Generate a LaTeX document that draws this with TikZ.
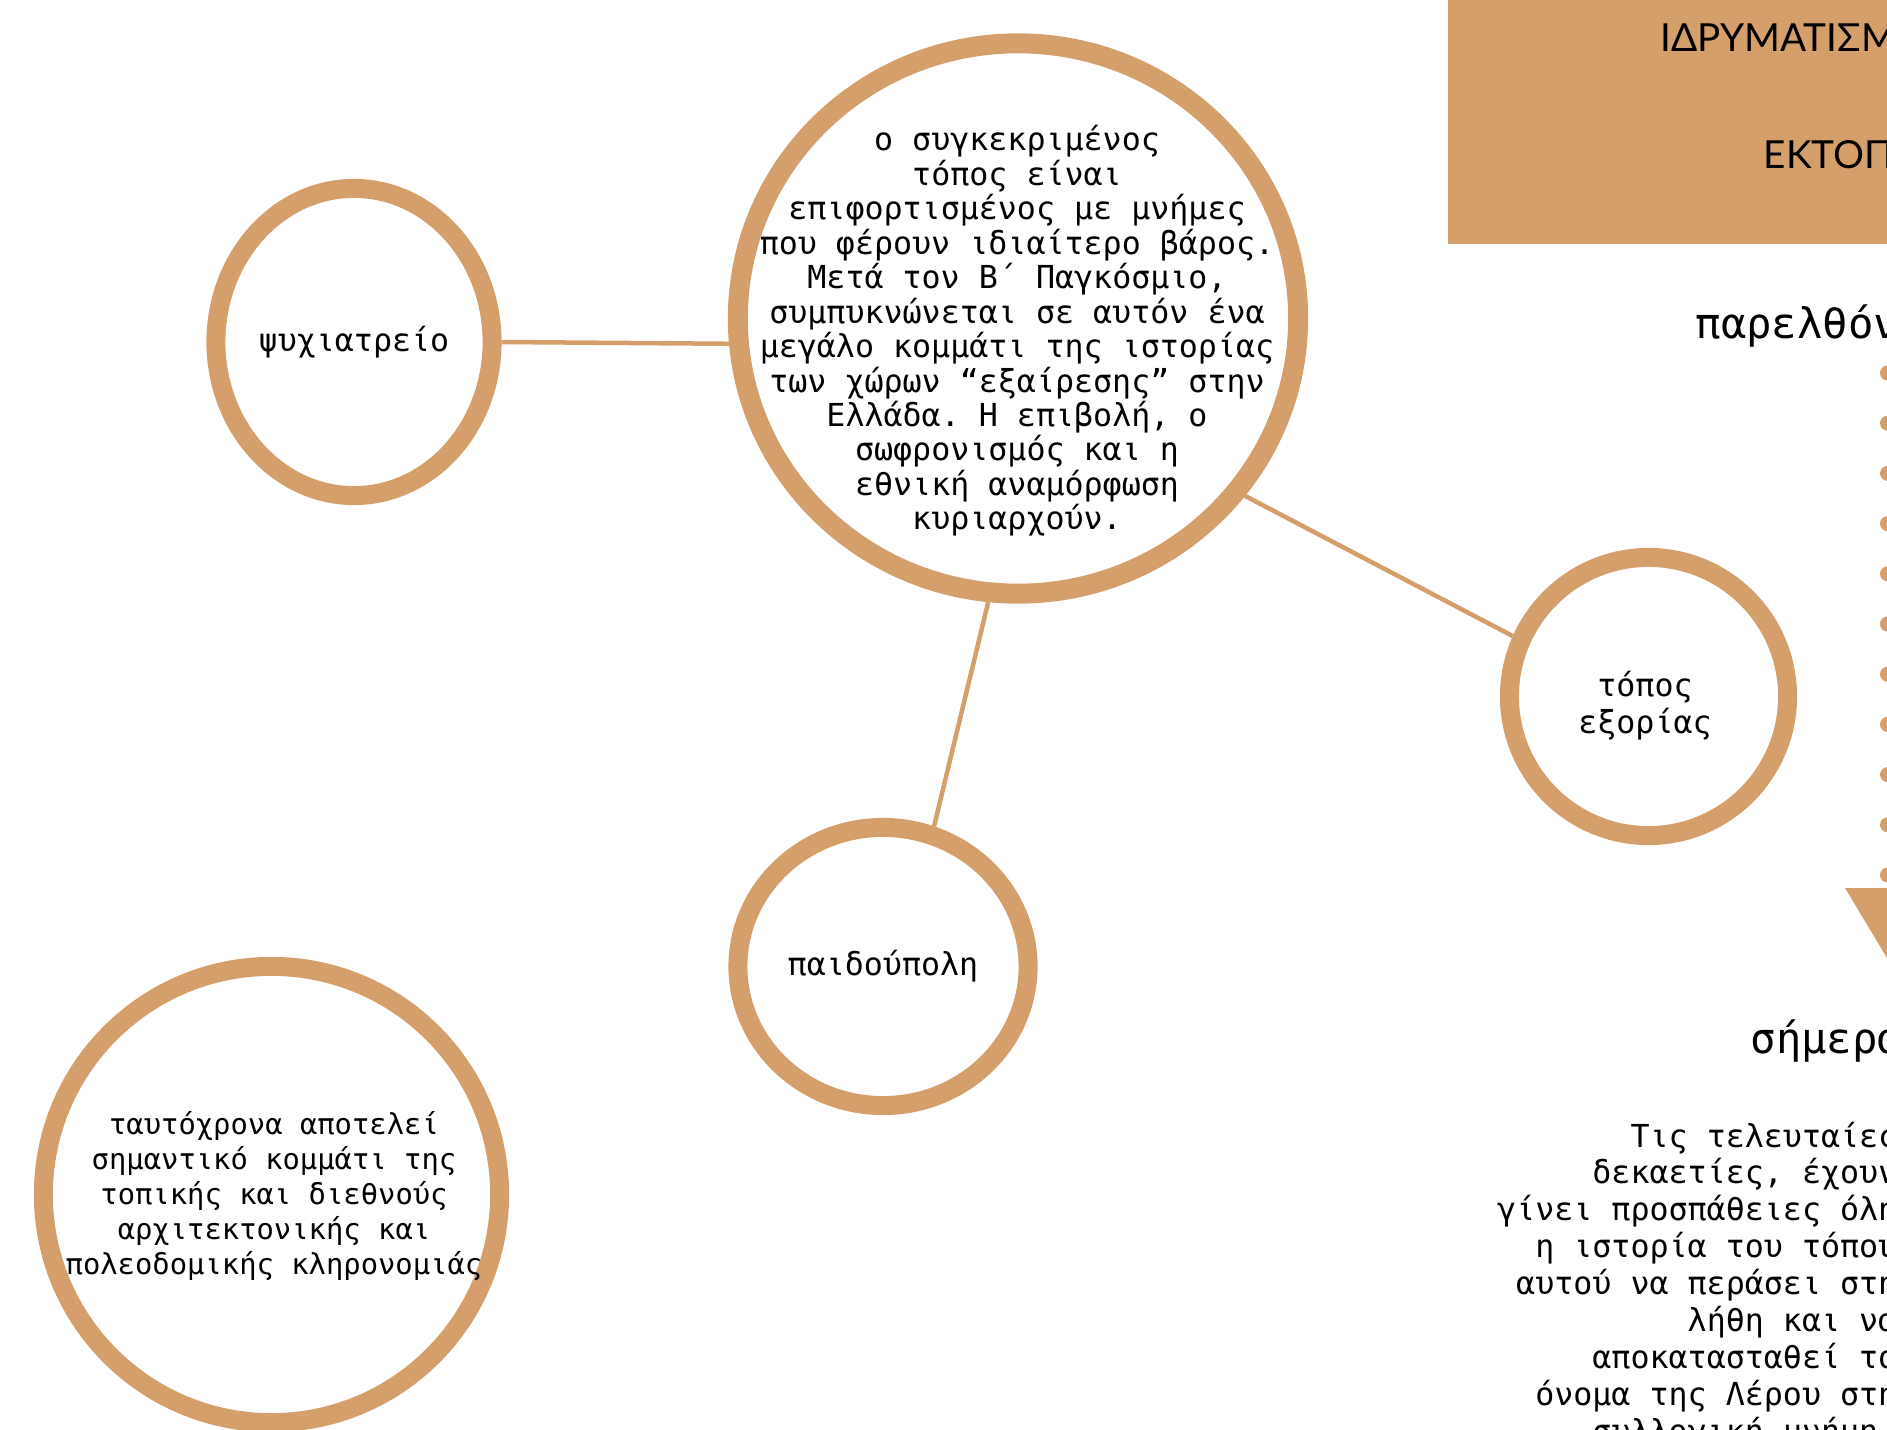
\documentclass[tikz,border=0pt]{standalone}
\usepackage{fontspec}
\setmainfont{DejaVu Sans}
\setmonofont{DejaVu Sans Mono}
\newfontfamily\boxfont{Lato}
\usetikzlibrary{shapes.geometric}
\definecolor{ochre}{RGB}{213,159,107}

\begin{document}
\begin{tikzpicture}[x=0.01cm,y=-0.01cm,
    ring/.style={draw=ochre,line width=0.19cm,ellipse,inner sep=0pt,align=center,
        font=\ttfamily\fontsize{9}{10.5}\selectfont},
    link/.style={draw=ochre,line width=0.045cm},
    mono/.style={font=\ttfamily\fontsize{9}{10.5}\selectfont,align=center,inner sep=0pt},
    head/.style={anchor=base west,inner sep=0pt,font=\ttfamily\fontsize{12}{14}\selectfont},
    caps/.style={anchor=base west,inner sep=0pt,font=\boxfont\fontsize{11}{13}\selectfont}]
    \useasboundingbox (0,0) rectangle (1887,1430);
    \clip (0,0) rectangle (1887,1430);

    \fill[ochre] (1448,0) rectangle (1900,244);
    \node[caps] (idrym) at (1660,51.7) {ΙΔΡΥΜΑΤΙΣΜ};
    \node[caps] (ektop) at (1763,168) {ΕΚΤΟΠΙ};

    \node[ring,line width=0.2cm,minimum width=5.6cm,minimum height=5.5cm] (kentro) at (1018,318.5) {};
    \node[mono,font=\ttfamily\fontsize{9}{9.8}\selectfont] (kentrotxt) at (1017,331) {ο συγκεκριμένος\\τόπος είναι\\επιφορτισμένος με μνήμες\\που φέρουν ιδιαίτερο βάρος.\\Μετά τον Β΄ Παγκόσμιο,\\συμπυκνώνεται σε αυτόν ένα\\μεγάλο κομμάτι της ιστορίας\\των χώρων “εξαίρεσης” στην\\Ελλάδα. Η επιβολή, ο\\σωφρονισμός και η\\εθνική αναμόρφωση\\κυριαρχούν.};
    \node[ring,minimum width=2.76cm,minimum height=3.07cm] (psyx) at (354,342) {ψυχιατρείο};
    \node[ring,minimum width=2.9cm,minimum height=2.78cm] (paidi) at (883,966.5) {παιδούπολη};
    \node[ring,minimum width=2.78cm,minimum height=2.78cm] (topos) at (1648.5,696.5) {};
    \node[mono] (topostxt) at (1645,706) {τόπος\\εξορίας};
    \node[ring,minimum width=4.56cm,minimum height=4.56cm] (klir) at (271.5,1194.5) {};
    \node[mono,font=\ttfamily\fontsize{8.2}{10}\selectfont] (klirtxt) at (274,1196) {ταυτόχρονα αποτελεί\\σημαντικό κομμάτι της\\τοπικής και διεθνούς\\αρχιτεκτονικής και\\πολεοδομικής κληρονομιάς};

    \draw[link] (psyx.east) -- (kentro.185);
    \draw[link] (kentro.264) -- (paidi.70);
    \draw[link] (kentro.322) -- (topos.156);

    \node[head] (past) at (1695,338) {παρελθόν};
    \foreach \k in {0,...,10}
        \fill[ochre] (1887.5,373+50.2*\k) circle[radius=0.075cm];
    \fill[ochre] (1845,888) -- (1929,888) -- (1887,958) -- cycle;
    \node[head] (today) at (1750,1053) {σήμερα};
    \node[mono,align=right,anchor=north east] (simera) at (1898,1121) {Τις τελευταίες\\δεκαετίες, έχουν\\γίνει προσπάθειες όλη\\η ιστορία του τόπου\\αυτού να περάσει στη\\λήθη και να\\αποκατασταθεί το\\όνομα της Λέρου στη\\συλλογική μνήμη\hspace*{0.6em}};
\end{tikzpicture}
\end{document}
